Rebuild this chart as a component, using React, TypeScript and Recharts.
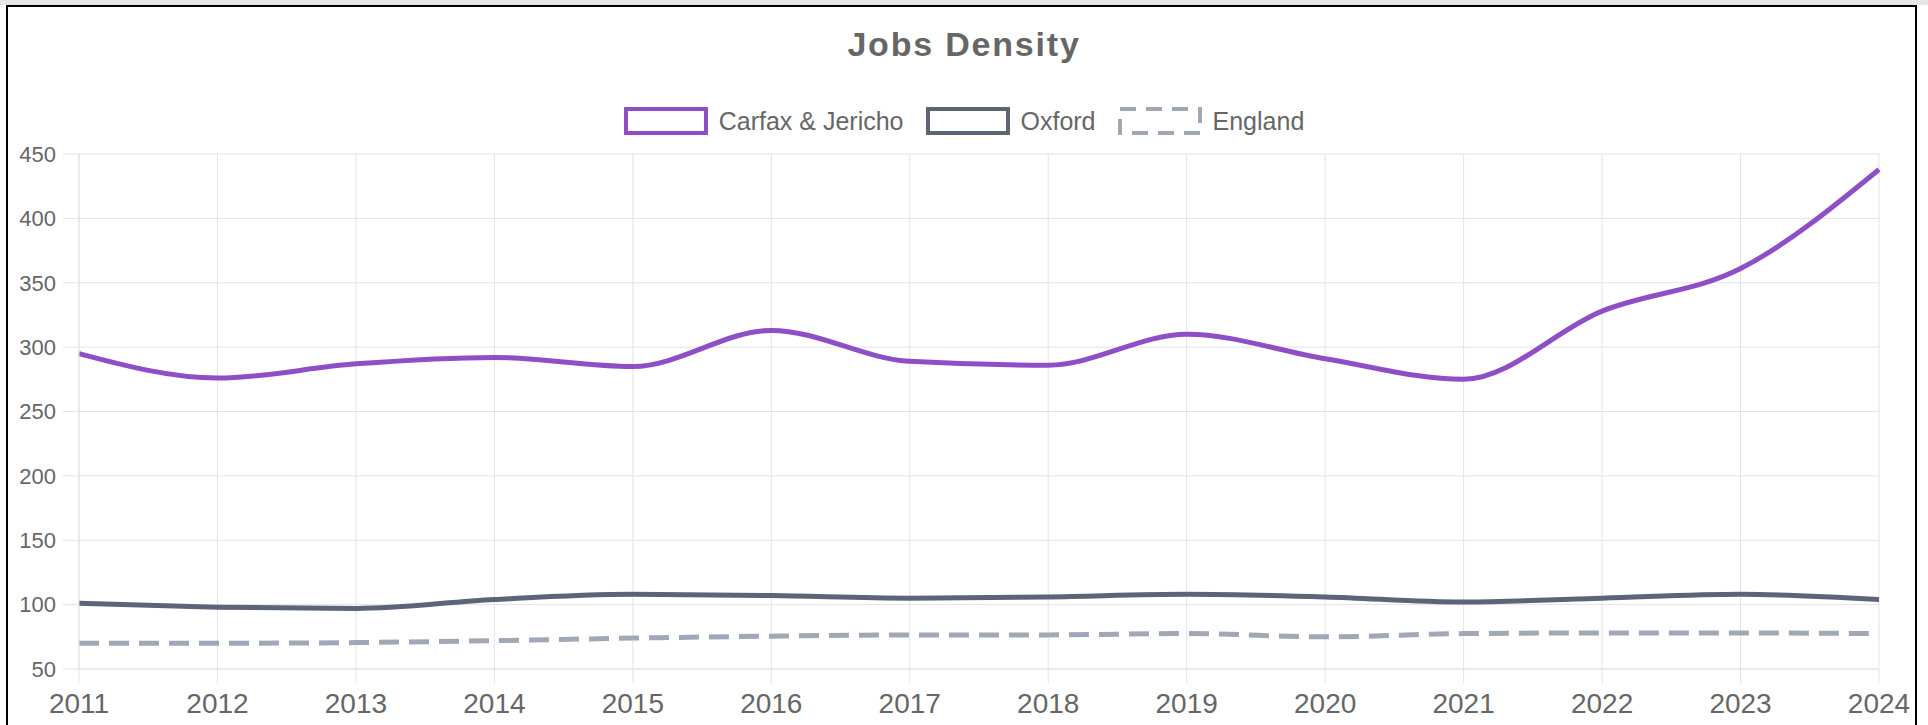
import { LineChart, Line, CartesianGrid, XAxis, YAxis, Legend } from "recharts"

const years = ["2011", "2012", "2013", "2014", "2015", "2016", "2017", "2018", "2019", "2020", "2021", "2022", "2023", "2024"]
const carfaxJericho = [295, 276, 287, 292, 285, 313, 289, 286, 310, 291, 275, 328, 361, 438]
const oxford = [101, 98, 97, 104, 108, 107, 105, 106, 108, 106, 102, 105, 108, 104]
const england = [70, 70, 70.5, 72, 74, 75.5, 76.5, 76.5, 77.5, 75, 77.5, 78, 78, 77.5]
const yTicks = [50, 100, 150, 200, 250, 300, 350, 400, 450]

const seriesInfo = [
    { key: "carfax", name: "Carfax & Jericho", color: "#8e4ec6", dashed: false },
    { key: "oxford", name: "Oxford", color: "#5b6577", dashed: false },
    { key: "england", name: "England", color: "#a0a7b6", dashed: true },
]

const chartData = years.map((y, i) => ({
    year: y,
    carfax: carfaxJericho[i],
    oxford: oxford[i],
    england: england[i],
}))

const font = "'Liberation Sans', Arial, sans-serif"
const gridColor = "#e3e3e3"

function TitleAndLegend() {
    return (
        <div style={{ position: "relative", width: "100%", height: 154, fontFamily: font }}>
            <div style={{
                position: "absolute", top: 27, left: 0, width: "100%", textAlign: "center",
                fontSize: 34, lineHeight: "34px", fontWeight: "bold", color: "#666", letterSpacing: 1.8,
            }}>Jobs Density</div>
            <div style={{
                position: "absolute", top: 106, left: 0, width: "100%", height: 30,
                display: "flex", justifyContent: "center", alignItems: "center",
            }}>
                {seriesInfo.map((s, i) => (
                    <div key={s.key} style={{ display: "flex", alignItems: "center", marginLeft: i === 0 ? 0 : 22 }}>
                        <svg width={84} height={28} style={{ display: "block" }}>
                            <rect x={2} y={2} width={80} height={24} fill="none" stroke={s.color} strokeWidth={4}
                                strokeDasharray={s.dashed ? "16 10" : undefined} />
                        </svg>
                        <span style={{ marginLeft: 11, fontSize: 25, color: "#666", lineHeight: "30px" }}>{s.name}</span>
                    </div>
                ))}
            </div>
        </div>
    )
}

export default function App() {
    return (
        <div style={{ position: "relative", width: 1928, height: 725, overflow: "hidden", background: "#fff" }}>
            <style>{`body{margin:0;background:#fff}`}</style>
            <div style={{ position: "absolute", left: 0, top: 0, width: 1928, height: 5, background: "#e6e6e6" }} />
            <div style={{
                position: "absolute", left: 6, top: 5, width: 1911, height: 800, boxSizing: "border-box",
                border: "2px solid #000",
            }} />
            <div style={{ position: "absolute", left: 0, top: 0 }}>
                <LineChart width={1928} height={725} data={chartData} margin={{ top: 0, left: 0, right: 49, bottom: 0 }}>
                    <Legend
                        verticalAlign="top"
                        height={154}
                        wrapperStyle={{ left: 0, top: 0, width: 1928 }}
                        content={() => <TitleAndLegend />}
                    />
                    <CartesianGrid stroke={gridColor} strokeWidth={1} />
                    <XAxis
                        dataKey="year"
                        height={56}
                        padding={{ left: 0, right: 0 }}
                        tickSize={14}
                        tickMargin={10}
                        tick={{ fill: "#666", fontSize: 28, fontFamily: font }}
                        tickLine={{ stroke: gridColor }}
                        axisLine={{ stroke: gridColor }}
                        interval={0}
                    />
                    <YAxis
                        width={79}
                        domain={[50, 450]}
                        ticks={yTicks}
                        tickSize={16}
                        tickMargin={7}
                        tick={{ fill: "#666", fontSize: 22, fontFamily: font }}
                        tickLine={{ stroke: gridColor }}
                        axisLine={{ stroke: gridColor }}
                    />
                    <Line type="monotone" dataKey="carfax" name="Carfax & Jericho" stroke="#8e4ec6" strokeWidth={5} dot={false} activeDot={false} isAnimationActive={false} />
                    <Line type="monotone" dataKey="oxford" name="Oxford" stroke="#5b6577" strokeWidth={5} dot={false} activeDot={false} isAnimationActive={false} />
                    <Line type="monotone" dataKey="england" name="England" stroke="#a0a7b6" strokeWidth={5} strokeDasharray="20 10" dot={false} activeDot={false} isAnimationActive={false} />
                </LineChart>
            </div>
        </div>
    )
}
